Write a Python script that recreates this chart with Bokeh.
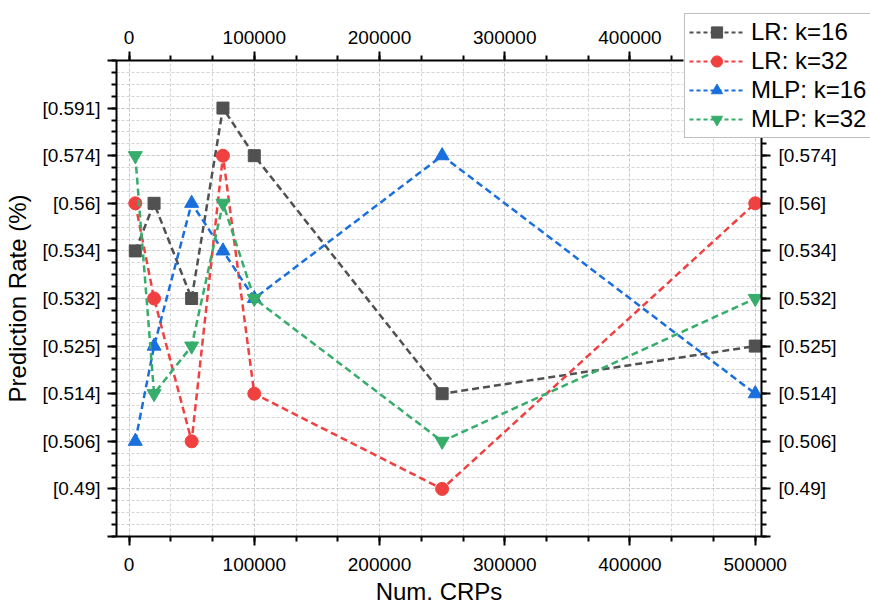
from bokeh.plotting import figure
from bokeh.models import (Range1d, LinearAxis, FixedTicker, SingleIntervalTicker,
                          NumeralTickFormatter, Legend, LegendItem)
from bokeh.embed import file_html
from bokeh.resources import INLINE

# ---- data ----
crps = [5000, 20000, 50000, 75000, 100000, 250000, 500000]
levels = [0.49, 0.506, 0.514, 0.525, 0.532, 0.534, 0.56, 0.574, 0.591]
level_labels = ["[0.49]", "[0.506]", "[0.514]", "[0.525]", "[0.532]",
                "[0.534]", "[0.56]", "[0.574]", "[0.591]"]
lr_k16 = [0.534, 0.56, 0.532, 0.591, 0.574, 0.514, 0.525]
lr_k32 = [0.56, 0.532, 0.506, 0.574, 0.514, 0.49, 0.56]
mlp_k16 = [0.506, 0.525, 0.56, 0.534, 0.532, 0.574, 0.514]
mlp_k32 = [0.574, 0.514, 0.525, 0.56, 0.532, 0.506, 0.532]
series_names = ["LR: k=16", "LR: k=32", "MLP: k=16", "MLP: k=32"]
series_colors = ["#515151", "#F14040", "#1A6FDF", "#37AD6B"]
series_markers = ["square", "circle", "triangle", "inverted_triangle"]
series_sizes = [12, 13, 14, 14]

FONT = "Liberation Sans"

def to_idx(vals):
    return [levels.index(v) + 1 for v in vals]

p = figure(width=870, height=607, output_backend="svg", toolbar_location=None,
           x_range=Range1d(-10000, 505000), y_range=Range1d(0, 10),
           min_border_left=116, min_border_right=109, min_border_top=60,
           min_border_bottom=71, x_axis_location=None, y_axis_location=None)
p.outline_line_color = None
p.background_fill_color = "white"

yticker = FixedTicker(ticks=list(range(0, 11)), minor_ticks=[i * 0.25 for i in range(41)])
xticker = SingleIntervalTicker(interval=100000, num_minor_ticks=3)
ylab = {0: "", 10: ""}
for i, lab in enumerate(level_labels):
    ylab[i + 1] = lab

def style_axis(ax):
    ax.axis_line_width = 2
    ax.axis_line_color = "black"
    ax.major_tick_line_width = 2
    ax.minor_tick_line_width = 2
    ax.major_tick_out = 9
    ax.major_tick_in = 0
    ax.minor_tick_out = 5
    ax.minor_tick_in = 0
    ax.major_label_text_font = FONT
    ax.major_label_text_font_size = "19px"
    ax.major_label_text_color = "black"
    ax.axis_label_text_font = FONT
    ax.axis_label_text_font_size = "24px"
    ax.axis_label_text_font_style = "normal"
    ax.axis_label_text_color = "black"

left = LinearAxis(ticker=yticker, axis_label="Prediction Rate (%)")
left.major_label_overrides = ylab
style_axis(left)
left.major_label_standoff = 7
left.axis_label_standoff = 8
p.add_layout(left, "left")

right = LinearAxis(ticker=yticker)
right.major_label_overrides = ylab
style_axis(right)
right.major_label_standoff = 8
p.add_layout(right, "right")

bottom = LinearAxis(ticker=xticker, formatter=NumeralTickFormatter(format="0"),
                    axis_label="Num. CRPs")
style_axis(bottom)
bottom.major_label_standoff = 12
bottom.axis_label_standoff = 4
p.add_layout(bottom, "below")

top = LinearAxis(ticker=xticker, formatter=NumeralTickFormatter(format="0"))
style_axis(top)
top.major_label_standoff = 8
p.add_layout(top, "above")

p.xgrid.ticker = xticker
p.ygrid.ticker = yticker
for g in (p.xgrid, p.ygrid):
    g.grid_line_color = "#c8c8c8"
    g.grid_line_dash = "3 2"
    g.grid_line_width = 1
    g.minor_grid_line_color = "#d4d4d4"
    g.minor_grid_line_dash = "3 2"
    g.minor_grid_line_width = 1

all_series = [lr_k16, lr_k32, mlp_k16, mlp_k32]
for name, vals, col, mk, sz in zip(series_names, all_series, series_colors,
                                   series_markers, series_sizes):
    ys = to_idx(vals)
    p.line(crps, ys, line_color=col, line_width=2.5, line_dash="7 4")
    p.scatter(crps, ys, marker=mk, size=sz, fill_color=col, line_color=col)

# ---- legend: a small overlay figure placed over the top-right corner ----
lf = figure(width=187, height=126, output_backend="svg", toolbar_location=None,
            x_range=Range1d(-3e6, -2e6), y_range=Range1d(100, 200),
            min_border=0, x_axis_location=None, y_axis_location=None,
            styles={"position": "absolute", "left": "683px", "top": "12px"})
lf.outline_line_color = None
lf.xgrid.visible = False
lf.ygrid.visible = False
items = []
for name, vals, col, mk, sz in zip(series_names, all_series, series_colors,
                                   series_markers, series_sizes):
    ys = to_idx(vals)
    lr = lf.line(crps, ys, line_color=col, line_width=2, line_dash="4 3")
    sr = lf.scatter(crps, ys, marker=mk, size=sz, fill_color=col, line_color=col)
    items.append(LegendItem(label=name, renderers=[lr, sr]))

legend = Legend(items=items, location="top_left")
legend.label_text_font = FONT
legend.label_text_font_size = "24px"
legend.label_text_color = "black"
legend.border_line_color = "#808080"
legend.border_line_width = 1
legend.background_fill_color = "white"
legend.background_fill_alpha = 1
legend.glyph_width = 55
legend.glyph_height = 28
legend.label_height = 28
legend.spacing = 1
legend.padding = 4
legend.margin = 1
legend.label_standoff = 7
lf.add_layout(legend)

open("out.html", "w").write(file_html([p, lf], INLINE))
